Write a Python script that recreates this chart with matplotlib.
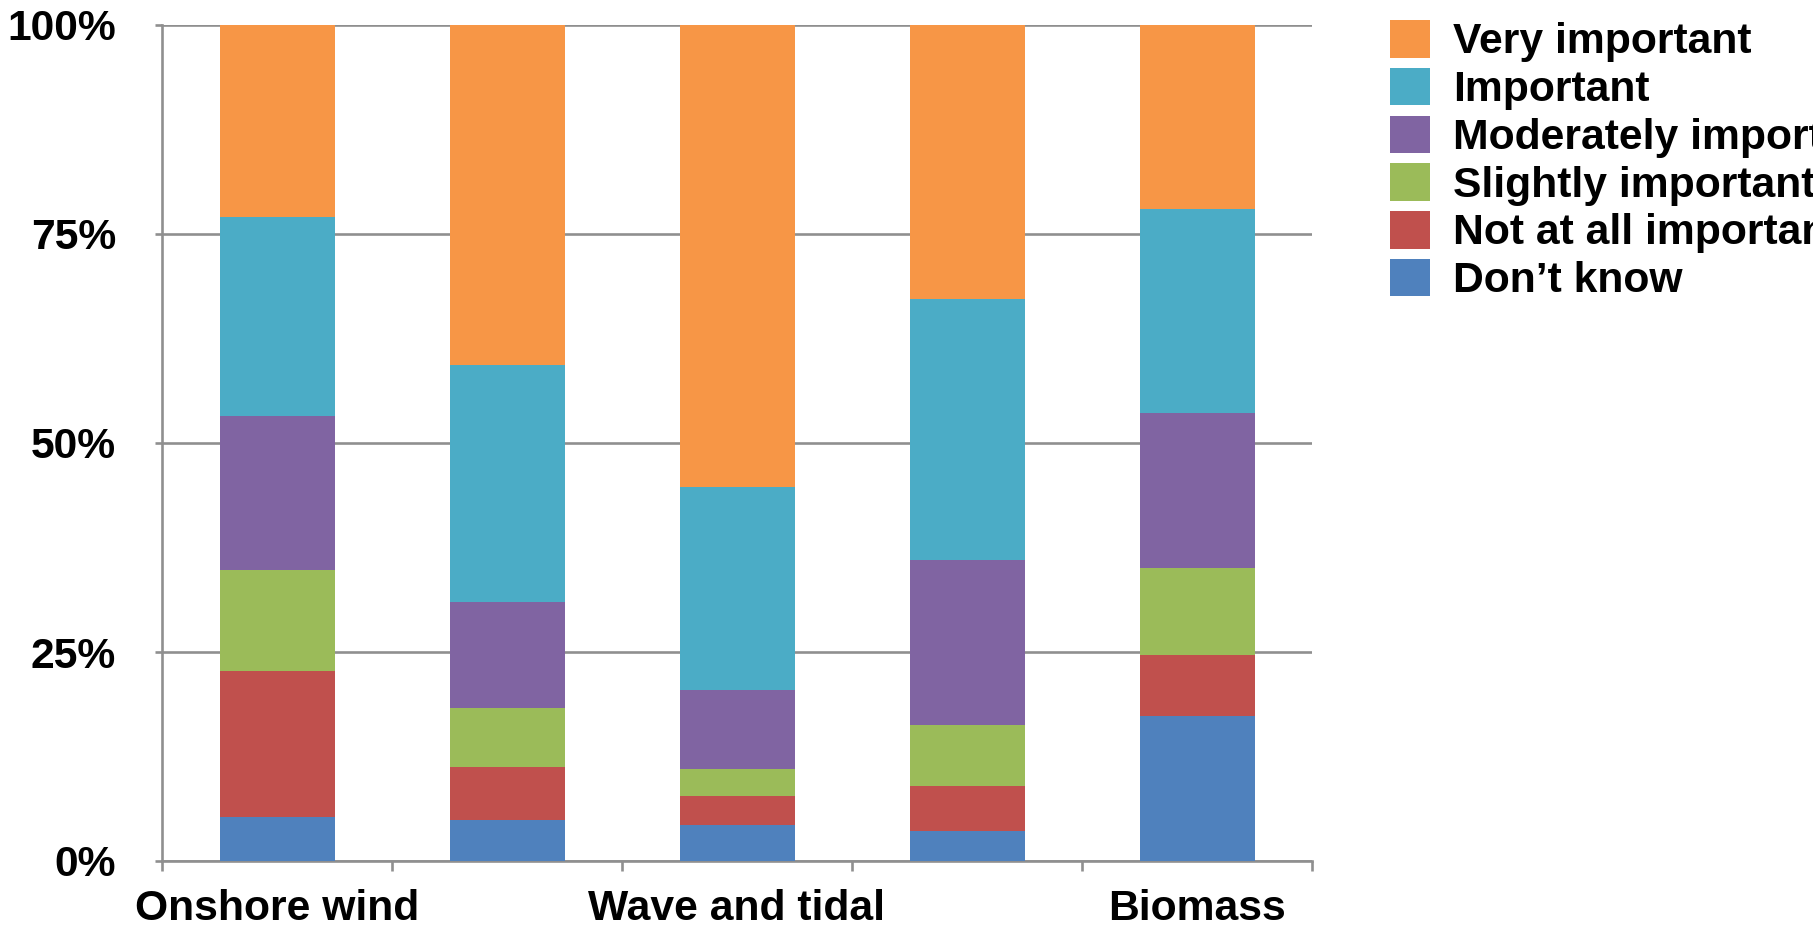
import matplotlib
matplotlib.use("Agg")
import matplotlib.pyplot as plt
import numpy as np
from matplotlib.ticker import FixedLocator, PercentFormatter

tick_labels = ["Onshore wind", "", "Wave and tidal", "", "Biomass"]
series_names = ["Don\u2019t know", "Not at all important", "Slightly important",
                "Moderately important", "Important", "Very important"]
dont_know = [5.3, 4.9, 4.3, 3.6, 17.3]
not_at_all = [17.4, 6.3, 3.5, 5.4, 7.3]
slightly = [12.1, 7.1, 3.2, 7.3, 10.5]
moderately = [18.4, 12.7, 9.4, 19.7, 18.5]
important = [23.8, 28.3, 24.3, 31.2, 24.4]
very_important = [23.0, 40.7, 55.3, 32.8, 22.0]
colors = ["#4F81BD", "#C0504D", "#9BBB59", "#8064A2", "#4BACC6", "#F79646"]

plt.rcParams['font.family'] = ['Liberation Sans', 'DejaVu Sans']
plt.rcParams['font.weight'] = 'bold'
FS = 30.7

fig = plt.figure(figsize=(18.13, 9.32), dpi=100)
ax = fig.add_axes([162/1813, 1-861/932, (1312-162)/1813, (861-25)/932])

series = [dont_know, not_at_all, slightly, moderately, important, very_important]
x = np.arange(len(tick_labels))
bottom = np.zeros(len(x))
handles = []
for vals, name, c in zip(series, series_names, colors):
    h = ax.bar(x, vals, width=0.5, bottom=bottom, color=c, label=name, zorder=3, linewidth=0)
    handles.append(h)
    bottom += np.array(vals)

grey = "#8f8f8f"
ax.set_xlim(-0.5, len(x) - 0.5)
ax.set_ylim(0, 100)
ax.set_yticks([0, 25, 50, 75, 100])
ax.yaxis.set_major_formatter(PercentFormatter(decimals=0))
ax.grid(axis='y', color=grey, linewidth=1.9, zorder=0)
ax.set_axisbelow(True)
for s in ['top', 'right']:
    ax.spines[s].set_visible(False)
for s in ['left', 'bottom']:
    ax.spines[s].set_color(grey)
    ax.spines[s].set_linewidth(1.9)

ax.xaxis.set_major_locator(FixedLocator(np.arange(-0.5, len(x), 1.0)))
ax.xaxis.set_major_formatter(plt.NullFormatter())
ax.xaxis.set_minor_locator(FixedLocator(x))
ax.set_xticklabels(tick_labels, minor=True)
ax.tick_params(axis='x', which='major', length=7, width=1.9, color=grey, direction='out')
ax.tick_params(axis='x', which='minor', length=0, pad=20, labelsize=FS)
ax.tick_params(axis='y', length=5, width=1.9, color=grey, direction='out', pad=28, labelsize=FS)
for lab in ax.get_xticklabels(minor=True) + ax.get_yticklabels():
    lab.set_fontweight('bold')

leg = fig.legend(handles[::-1], series_names[::-1], loc='upper left',
                 bbox_to_anchor=(1390/1813, 1-20/932), frameon=False,
                 fontsize=FS, handlelength=0.93, handleheight=0.98,
                 handletextpad=0.54, labelspacing=0.125, borderpad=0, borderaxespad=0)
for t in leg.get_texts():
    t.set_fontweight('bold')

fig.savefig("out.png", dpi=100)
